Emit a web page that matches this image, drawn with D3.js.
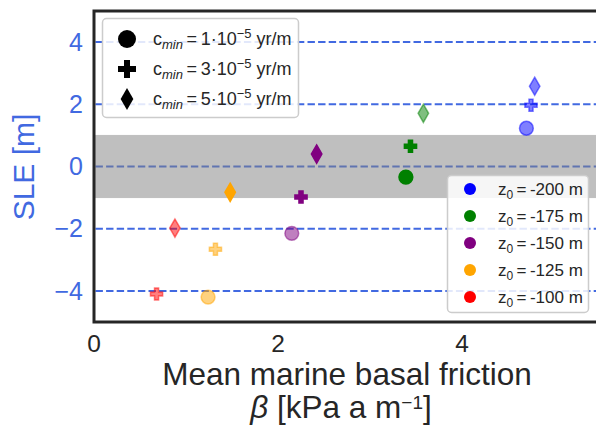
<!DOCTYPE html>
<html>
<head>
<meta charset="utf-8">
<script src="https://cdn.jsdelivr.net/npm/d3@7"></script>
<style>
  body { margin: 0; background: #fff; }
  svg { display: block; font-family: 'Liberation Sans', Arial, sans-serif; }
</style>
</head>
<body>
<div id="wrapper"></div>
<script>
// series: one value per bed depth z0, null where the point is not shown
const depths = [-200, -175, -150, -125, -100]
const depthColors = ['blue', 'green', 'purple', 'orange', 'red']
const cminLabels = ['1', '3', '5']

const betaCircle = [4.70, 3.39, 2.15, 1.24, null]
const sleCircle = [1.23, -0.34, -2.15, -4.20, null]
const betaPlus = [4.75, 3.44, 2.25, 1.32, 0.68]
const slePlus = [1.97, 0.65, -0.98, -2.66, -4.10]
const betaDiamond = [4.79, 3.58, 2.42, 1.48, 0.88]
const sleDiamond = [2.58, 1.71, 0.40, -0.83, -1.98]

const xTicks = [0, 2, 4]
const yTicks = [-4, -2, 0, 2, 4]
const band = [-1, 1]

const drawChart = () => {
    const dimensions = {
        width: 596,
        height: 429,
        margin: { top: 11, right: -4, bottom: 107, left: 94 },
    }
    dimensions.boundedWidth = dimensions.width - dimensions.margin.left - dimensions.margin.right
    dimensions.boundedHeight = dimensions.height - dimensions.margin.top - dimensions.margin.bottom

    const textColor = '#262626'
    const axisBlue = 'royalblue'

    const wrapper = d3.select('#wrapper')
        .append('svg')
        .attr('width', dimensions.width)
        .attr('height', dimensions.height)

    const bounds = wrapper.append('g')
        .attr('transform', `translate(${dimensions.margin.left}, ${dimensions.margin.top})`)

    const scaleX = d3.scaleLinear()
        .domain([0, 5.5])
        .range([0, dimensions.boundedWidth])

    const scaleY = d3.scaleLinear()
        .domain([-5, 5])
        .range([dimensions.boundedHeight, 0])

    // dashed reference lines
    bounds.append('g')
        .selectAll('line')
        .data(yTicks)
        .join('line')
        .attr('x1', 0)
        .attr('x2', dimensions.boundedWidth)
        .attr('y1', d => scaleY(d))
        .attr('y2', d => scaleY(d))
        .attr('stroke', axisBlue)
        .attr('stroke-width', 2)
        .attr('stroke-dasharray', '7.4,3.2')
        .attr('stroke-dashoffset', -1.5)

    // grey band |SLE| < 1
    bounds.append('rect')
        .attr('x', 0)
        .attr('width', dimensions.boundedWidth)
        .attr('y', scaleY(band[1]))
        .attr('height', scaleY(band[0]) - scaleY(band[1]))
        .attr('fill', 'grey')
        .attr('fill-opacity', 0.5)
        .attr('stroke', 'grey')
        .attr('stroke-opacity', 0.3)

    // markers
    const series = [
        { shape: d3.symbolCircle, size: 150, xs: betaCircle, ys: sleCircle },
        { shape: d3.symbolCross, size: 82, xs: betaPlus, ys: slePlus },
        { shape: d3.symbolDiamond, size: 95, xs: betaDiamond, ys: sleDiamond },
    ]
    const points = []
    series.forEach(s => {
        depths.forEach((z, i) => {
            if (s.xs[i] == null) return
            points.push({ shape: s.shape, size: s.size, x: s.xs[i], y: s.ys[i], color: depthColors[i] })
        })
    })

    bounds.append('g')
        .selectAll('path')
        .data(points)
        .join('path')
        .attr('d', d => d3.symbol(d.shape, d.size)())
        .attr('transform', d => `translate(${scaleX(d.x)}, ${scaleY(d.y)})`)
        .attr('fill', d => d.color)
        .attr('stroke', d => d.color)
        .attr('stroke-width', 1.5)
        .attr('fill-opacity', d => Math.abs(d.y) <= 1 ? 1 : 0.5)
        .attr('stroke-opacity', d => Math.abs(d.y) <= 1 ? 1 : 0.5)

    // frame
    bounds.append('rect')
        .attr('width', dimensions.boundedWidth)
        .attr('height', dimensions.boundedHeight)
        .attr('fill', 'none')
        .attr('stroke', textColor)
        .attr('stroke-width', 3)

    // y tick labels
    bounds.append('g')
        .selectAll('text')
        .data(yTicks)
        .join('text')
        .text(d => d < 0 ? '\u2212' + Math.abs(d) : d)
        .attr('x', -11)
        .attr('y', d => scaleY(d))
        .attr('dy', '0.35em')
        .attr('fill', axisBlue)
        .style('font-size', '25px')
        .style('text-anchor', 'end')

    // x tick labels
    bounds.append('g')
        .selectAll('text')
        .data(xTicks)
        .join('text')
        .text(d => d)
        .attr('x', d => scaleX(d))
        .attr('y', dimensions.boundedHeight + 30)
        .attr('fill', textColor)
        .style('font-size', '24.5px')
        .style('text-anchor', 'middle')

    // axis labels
    const xLabelX = 347
    wrapper.append('text')
        .text('Mean marine basal friction')
        .attr('x', xLabelX)
        .attr('y', 385)
        .attr('fill', textColor)
        .style('font-size', '31.5px')
        .style('text-anchor', 'middle')

    const xLabel2 = wrapper.append('text')
        .attr('x', xLabelX - 6)
        .attr('y', 418)
        .attr('fill', textColor)
        .style('font-size', '31.5px')
        .style('text-anchor', 'middle')
    xLabel2.append('tspan').text('\u03B2').style('font-style', 'italic')
    xLabel2.append('tspan').text(' [kPa a m')
    xLabel2.append('tspan').text('\u22121').attr('dy', -9).style('font-size', '19px')
    xLabel2.append('tspan').text(']').attr('dy', 9)

    wrapper.append('text')
        .text('SLE [m]')
        .attr('transform', 'translate(34, 167) rotate(-90)')
        .attr('fill', axisBlue)
        .style('font-size', '30px')
        .style('text-anchor', 'middle')

    // legend: c_min markers
    const legend1 = wrapper.append('g')
    legend1.append('rect')
        .attr('x', 102.5).attr('y', 18.5)
        .attr('width', 196).attr('height', 99)
        .attr('rx', 4)
        .attr('fill', 'white').attr('fill-opacity', 0.85)
        .attr('stroke', '#cccccc').attr('stroke-width', 1.5)

    const legendShapes = [
        { shape: d3.symbolCircle, size: 254 },
        { shape: d3.symbolCross, size: 180 },
        { shape: d3.symbolDiamond, size: 140 },
    ]
    const rows1 = legend1.selectAll('g')
        .data(cminLabels)
        .join('g')
        .attr('transform', (d, i) => `translate(0, ${39 + i * 30})`)
    rows1.append('path')
        .attr('d', (d, i) => d3.symbol(legendShapes[i].shape, legendShapes[i].size)())
        .attr('transform', 'translate(127, 0)')
        .attr('fill', 'black')
    const t1 = rows1.append('text')
        .attr('x', 153)
        .attr('y', 6)
        .attr('fill', textColor)
        .style('font-size', '18px')
    t1.append('tspan').text('c')
    t1.append('tspan').text('min').attr('dy', 4).style('font-size', '13px').style('font-style', 'italic')
    t1.append('tspan').text('\u2009=\u2009').attr('dy', -4)
    t1.append('tspan').text(d => d + '\u00B710')
    t1.append('tspan').text('\u22125').attr('dy', -7).style('font-size', '13px')
    t1.append('tspan').text(' yr/m').attr('dy', 7)

    // legend: z0 colours
    const legend2 = wrapper.append('g')
    legend2.append('rect')
        .attr('x', 447.5).attr('y', 175.5)
        .attr('width', 141).attr('height', 137)
        .attr('rx', 4)
        .attr('fill', 'white').attr('fill-opacity', 0.85)
        .attr('stroke', '#cccccc').attr('stroke-width', 1.5)

    const rows2 = legend2.selectAll('g')
        .data(depths)
        .join('g')
        .attr('transform', (d, i) => `translate(0, ${189 + i * 27})`)
    rows2.append('circle')
        .attr('cx', 470)
        .attr('r', 6)
        .attr('fill', (d, i) => depthColors[i])
    const t2 = rows2.append('text')
        .attr('x', 498)
        .attr('y', 6)
        .attr('fill', textColor)
        .style('font-size', '17px')
    t2.append('tspan').text('z')
    t2.append('tspan').text('0').attr('dy', 4).style('font-size', '12px')
    t2.append('tspan').text(d => '\u2009=\u2009' + d + ' m').attr('dy', -4)
}
drawChart()
</script>
</body>
</html>
